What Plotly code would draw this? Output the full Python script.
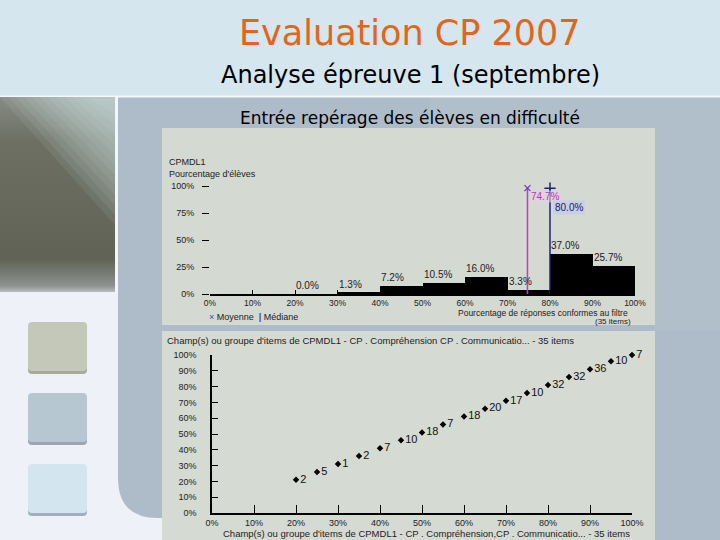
import plotly.graph_objects as go

# ---------------- data ----------------
bin_lo = [20, 30, 40, 50, 60, 70, 80, 90]          # lower edge of each 10% class
bin_pct = [0.0, 1.3, 7.2, 10.5, 16.0, 3.3, 37.0, 25.7]
bin_labels = ["0.0%", "1.3%", "7.2%", "10.5%", "16.0%", "3.3%", "37.0%", "25.7%"]
mean_pct = 74.7
median_pct = 80.0
hist_xticks = [0, 10, 20, 30, 40, 50, 60, 70, 80, 90, 100]
hist_xtext = ["0%", "10%", "20%", "30%", "40%", "50%", "60%", "70%", "80%", "90%", "100%"]
hist_yticks = [0, 25, 50, 75, 100]
hist_ytext = ["0%", "25%", "50%", "75%", "100%"]

field_x = [20, 25, 30, 35, 40, 45, 50, 55, 60, 65, 70, 75, 80, 85, 90, 95, 100]
field_y = [21, 26, 31, 36, 41, 46, 51, 56, 61, 66, 71, 76, 81, 86, 91, 96, 100]
field_n = ["2", "5", "1", "2", "7", "10", "18", "7", "18", "20", "17", "10", "32", "32", "36", "10", "7"]
scat_ticks = [0, 10, 20, 30, 40, 50, 60, 70, 80, 90, 100]
scat_text = ["0%", "10%", "20%", "30%", "40%", "50%", "60%", "70%", "80%", "90%", "100%"]

W, H = 720, 540
TITLE_FONT = "DejaVu Sans"
CH_FONT = "Liberation Sans"

fig = go.Figure()

# ---------------- background (pixel-coordinate subplot x/y) ----------------
def rrect(x0, y0, x1, y1, r):
    return (f"M{x0+r},{y0} L{x1-r},{y0} Q{x1},{y0} {x1},{y0+r} L{x1},{y1-r} "
            f"Q{x1},{y1} {x1-r},{y1} L{x0+r},{y1} Q{x0},{y1} {x0},{y1-r} "
            f"L{x0},{y0+r} Q{x0},{y0} {x0+r},{y0} Z")

shapes = []
shapes.append(dict(type="rect", x0=0, x1=720, y0=0, y1=97, fillcolor="#d5e6ef", line_width=0))
shapes.append(dict(type="rect", x0=0, x1=720, y0=97, y1=540, fillcolor="#eef2f8", line_width=0))
shapes.append(dict(type="path",
                   path="M118,97 L720,97 L720,540 L162,540 L162,518 L158,518 Q118,518 118,478 Z",
                   fillcolor="#adbcc8", line_width=0))
# faint lighter strip (texture area) at right of the panel
shapes.append(dict(type="rect", x0=430, x1=720, y0=97, y1=128, fillcolor="rgba(255,255,255,0.05)", line_width=0))
shapes.append(dict(type="rect", x0=655, x1=720, y0=128, y1=330, fillcolor="rgba(255,255,255,0.05)", line_width=0))
shapes.append(dict(type="rect", x0=162, x1=655, y0=128, y1=325, fillcolor="#d4d9d1", line_width=0))
shapes.append(dict(type="rect", x0=162, x1=655, y0=331, y1=540, fillcolor="#d5dad3", line_width=0))
shapes.append(dict(type="line", x0=0, x1=720, y0=96.5, y1=96.5, line=dict(color="#f4f8fb", width=2)))
shapes.append(dict(type="line", x0=116.5, x1=116.5, y0=97, y1=292, line=dict(color="#f4f8fb", width=2)))
for (y0, col, sh) in [(322, "#c3c8b8", "#a6ab9c"), (393, "#b7c7d1", "#98a8b3"), (464, "#d3e6ef", "#9fb0bb")]:
    shapes.append(dict(type="path", path=rrect(28, y0 + 2, 87, y0 + 52, 4), fillcolor=sh, line_width=0))
    shapes.append(dict(type="path", path=rrect(28, y0, 87, y0 + 49, 4), fillcolor=col, line_width=0))
for s in shapes:
    s.update(xref="x", yref="y", layer="below")

# left gradient block
fig.add_trace(go.Scatter(
    x=[0, 115, 115, 0, 0], y=[97, 97, 292, 292, 97], mode="lines", line_width=0,
    fill="toself", hoverinfo="skip", showlegend=False,
    fillgradient=dict(type="vertical", start=97, stop=300,
                      colorscale=[[0, "#878b84"], [0.22, "#6c6f62"], [0.8, "#606356"], [0.93, "#8e9290"], [1, "#eef2f8"]]),
    xaxis="x", yaxis="y"))
# soft light wedge in the top-right corner (many thin translucent layers)
for k in range(12):
    xa = 0 + k * 8
    yb = 225 - k * 10
    fig.add_trace(go.Scatter(
        x=[xa, 115, 115, xa], y=[97, 97, yb, 97], mode="lines", line_width=0,
        fill="toself", fillcolor="rgba(214,228,236,0.09)", hoverinfo="skip", showlegend=False,
        xaxis="x", yaxis="y"))

annotations = []
annotations.append(dict(x=410, y=33, text="Evaluation CP 2007", xanchor="center", yanchor="middle",
                        font=dict(family=TITLE_FONT, size=35, color="#e0661c")))
annotations.append(dict(x=410, y=75, text="Analyse épreuve 1 (septembre)", xanchor="center", yanchor="middle",
                        font=dict(family=TITLE_FONT, size=24, color="#000000")))
annotations.append(dict(x=410, y=118, text="Entrée repérage des élèves en difficulté", xanchor="center",
                        yanchor="middle", font=dict(family=TITLE_FONT, size=17, color="#000000")))

small = dict(family=CH_FONT, size=9, color="#222222")
annotations.append(dict(x=167, y=162, text="CPMDL1", xanchor="left", yanchor="middle", font=small))
annotations.append(dict(x=167, y=174, text="Pourcentage d'élèves", xanchor="left", yanchor="middle", font=small))
annotations.append(dict(x=543, y=313, text="Pourcentage de réponses conformes au filtre", xanchor="center",
                        yanchor="middle", font=dict(family=CH_FONT, size=8.5, color="#222222")))
annotations.append(dict(x=613, y=321, text="(35 items)", xanchor="center", yanchor="middle",
                        font=dict(family=CH_FONT, size=8, color="#222222")))
annotations.append(dict(x=207, y=317,
                        text="<span style='color:#4b3fc0'>×</span> Moyenne  <span style='color:#3a3ab8'><b>|</b></span> Médiane",
                        xanchor="left", yanchor="middle", font=small))
annotations.append(dict(x=165, y=340,
                        text="Champ(s) ou groupe d'items de CPMDL1 - CP . Compréhension CP . Communicatio... - 35 items",
                        xanchor="left", yanchor="middle", font=dict(family=CH_FONT, size=9.5, color="#222222")))
annotations.append(dict(x=426, y=533,
                        text="Champ(s) ou groupe d'items de CPMDL1 - CP . Compréhension,CP . Communicatio... - 35 items",
                        xanchor="center", yanchor="middle", font=dict(family=CH_FONT, size=9.5, color="#222222")))
for a in annotations:
    a.update(xref="x", yref="y", showarrow=False)

# ---------------- top chart: histogram ----------------
bin_centers = [b + 5 for b in bin_lo]
fig.add_trace(go.Bar(x=bin_centers, y=bin_pct, width=[10] * len(bin_lo), marker=dict(color="#000000", line_width=0),
                     hoverinfo="skip", showlegend=False, xaxis="x2", yaxis="y2"))
for b, v, t in zip(bin_lo, bin_pct, bin_labels):
    annotations.append(dict(x=b, y=v, text=t, xref="x2", yref="y2", xanchor="left", yanchor="bottom",
                            xshift=-1, yshift=1, showarrow=False,
                            font=dict(family=CH_FONT, size=10, color="#222222")))
LINE_TOP = 98
fig.add_trace(go.Scatter(x=[mean_pct, mean_pct], y=[0, LINE_TOP], mode="lines",
                         line=dict(color="#c03cc0", width=1.5), hoverinfo="skip", showlegend=False,
                         xaxis="x2", yaxis="y2"))
fig.add_trace(go.Scatter(x=[median_pct, median_pct], y=[0, LINE_TOP], mode="lines",
                         line=dict(color="#20207a", width=1.5), hoverinfo="skip", showlegend=False,
                         xaxis="x2", yaxis="y2"))
fig.add_trace(go.Scatter(x=[mean_pct], y=[LINE_TOP], mode="markers",
                         marker=dict(symbol="x-thin-open", size=6, color="#6a3cc0", line=dict(color="#6a3cc0", width=1.3)),
                         hoverinfo="skip", showlegend=False, xaxis="x2", yaxis="y2", cliponaxis=False))
fig.add_trace(go.Scatter(x=[median_pct], y=[LINE_TOP], mode="markers",
                         marker=dict(symbol="cross-thin-open", size=8, color="#20207a", line=dict(color="#20207a", width=1.5)),
                         hoverinfo="skip", showlegend=False, xaxis="x2", yaxis="y2", cliponaxis=False))
annotations.append(dict(x=mean_pct, y=90, text=f"{mean_pct:.1f}%", xref="x2", yref="y2", xanchor="left",
                        yanchor="middle", xshift=3, showarrow=False, bgcolor="rgba(235,205,235,0.6)",
                        borderpad=0, font=dict(family=CH_FONT, size=10, color="#b03cb0")))
annotations.append(dict(x=median_pct, y=80, text=f"{median_pct:.1f}%", xref="x2", yref="y2", xanchor="left",
                        yanchor="middle", xshift=3, showarrow=False, bgcolor="#c9cde6",
                        borderpad=1, font=dict(family=CH_FONT, size=10, color="#1a1a6a")))

# ---------------- bottom chart: scatter ----------------
fig.add_trace(go.Scatter(x=field_x, y=field_y, mode="markers+text", text=field_n,
                         textposition="middle right",
                         textfont=dict(family=CH_FONT, size=11, color="#111111"),
                         marker=dict(symbol="diamond", size=5, color="#000000"),
                         hoverinfo="skip", showlegend=False, cliponaxis=False, xaxis="x3", yaxis="y3"))

axfont = dict(family=CH_FONT, size=9, color="#222222")
fig.update_layout(
    width=W, height=H, margin=dict(l=0, r=0, t=0, b=0, autoexpand=False),
    paper_bgcolor="#eef2f8", plot_bgcolor="rgba(0,0,0,0)",
    shapes=shapes, annotations=annotations, bargap=0,
    xaxis=dict(domain=[0, 1], range=[0, W], visible=False, fixedrange=True),
    yaxis=dict(domain=[0, 1], range=[H, 0], visible=False, fixedrange=True),
    xaxis2=dict(domain=[210 / W, 635 / W], range=[0, 100], anchor="y2", showgrid=False, zeroline=False,
                showline=True, linecolor="#000000", linewidth=1.5, ticks="inside", ticklen=4,
                tickcolor="#000000", tickvals=hist_xticks, ticktext=hist_xtext,
                tickfont=dict(family=CH_FONT, size=8.5, color="#222222")),
    yaxis2=dict(domain=[1 - 294 / H, 1 - 186 / H], range=[0, 100], anchor="x2", showgrid=False,
                zeroline=False, showline=False, ticks="outside", ticklen=7, tickcolor="#000000",
                tickvals=hist_yticks, ticktext=hist_ytext, tickfont=axfont, ticklabelstandoff=6),
    xaxis3=dict(domain=[212 / W, 632 / W], range=[0, 100], anchor="y3", showgrid=False, zeroline=False,
                showline=True, linecolor="#000000", linewidth=1.5, ticks="inside", ticklen=8,
                tickcolor="#000000", tickvals=scat_ticks, ticktext=scat_text, tickfont=axfont),
    yaxis3=dict(domain=[1 - 513 / H, 1 - 355 / H], range=[0, 100], anchor="x3", showgrid=False,
                zeroline=False, showline=True, linecolor="#000000", linewidth=1.5, ticks="inside",
                ticklen=6, tickcolor="#000000", tickvals=scat_ticks, ticktext=scat_text, tickfont=axfont,
                ticklabelstandoff=12),
)

fig.write_html("out.html",
               post_script="document.body.style.margin='0';document.body.style.padding='0';")
